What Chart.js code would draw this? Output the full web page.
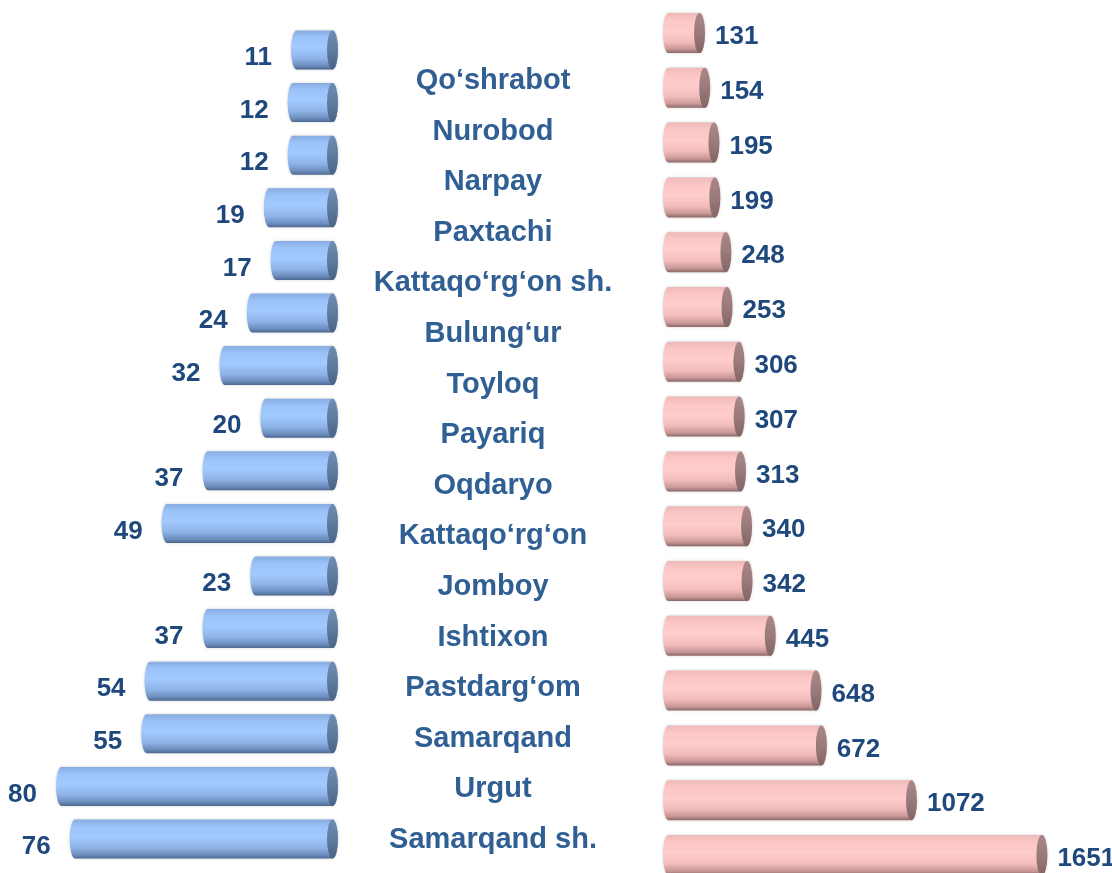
<!DOCTYPE html>
<html>
<head>
<meta charset="utf-8">
<script src="https://cdn.jsdelivr.net/npm/chart.js@4"></script>
<style>
    body { margin: 0; background: #ffffff; }
    #wrap { position: relative; width: 1112px; height: 873px; overflow: hidden; }
    canvas { position: absolute; top: 0; }
    #left-canvas { left: 0; }
    #mid-canvas { left: 343px; }
    #right-canvas { left: 600px; }
</style>
</head>
<body>
<div id="wrap">
    <canvas id="left-canvas" width="345" height="873"></canvas>
    <canvas id="mid-canvas" width="300" height="873"></canvas>
    <canvas id="right-canvas" width="526" height="890"></canvas>
</div>
<script>
const districts = ['Qo‘shrabot', 'Nurobod', 'Narpay', 'Paxtachi', 'Kattaqo‘rg‘on sh.', 'Bulung‘ur', 'Toyloq', 'Payariq',
    'Oqdaryo', 'Kattaqo‘rg‘on', 'Jomboy', 'Ishtixon', 'Pastdarg‘om', 'Samarqand', 'Urgut', 'Samarqand sh.'];
const leftValues = [11, 12, 12, 19, 17, 24, 32, 20, 37, 49, 23, 37, 54, 55, 80, 76];
const rightValues = [131, 154, 195, 199, 248, 253, 306, 307, 313, 340, 342, 445, 648, 672, 1072, 1651];

const numberColor = '#1F497D';
const labelColor = '#305F94';
const fontFamily = '"Liberation Sans", Arial, sans-serif';

// body and end-face colours of the cylinders (top -> bottom)
const blueBody = [[0, '#86ACE0'], [0.18, '#9CC3F8'], [0.45, '#A2CAFF'], [0.72, '#8EB3E6'], [0.9, '#6D8EBE'], [1, '#4B6890']];
const blueCap = [[0, '#6F8DB3'], [0.5, '#5F7B9F'], [1, '#4A6386']];
const pinkBody = [[0, '#EDB9B9'], [0.18, '#FBC6C6'], [0.45, '#FFCDCD'], [0.72, '#F2BCBC'], [0.9, '#C99898'], [1, '#8C6767']];
const pinkCap = [[0, '#A88888'], [0.5, '#9A7A7A'], [1, '#836565']];

function makeGradient(ctx, top, bottom, stops) {
    const g = ctx.createLinearGradient(0, top, 0, bottom);
    stops.forEach((s) => g.addColorStop(s[0], s[1]));
    return g;
}

// a lying cylinder: rounded far end on the left, elliptical face on the right
function drawCylinder(ctx, xL, xR, yc, h, rx, bodyStops, capStops) {
    const top = yc - h / 2;
    const bottom = yc + h / 2;
    if (xR - xL < 2 * rx) xR = xL + 2 * rx;

    ctx.save();
    ctx.shadowColor = 'rgba(0,0,0,0.18)';
    ctx.shadowBlur = 3;
    ctx.beginPath();
    ctx.moveTo(xR - rx, top);
    ctx.lineTo(xL + rx, top);
    ctx.ellipse(xL + rx, yc, rx, h / 2, 0, -Math.PI / 2, Math.PI / 2, true);
    ctx.lineTo(xR - rx, bottom);
    ctx.ellipse(xR - rx, yc, rx, h / 2, 0, Math.PI / 2, -Math.PI / 2, true);
    ctx.closePath();
    ctx.fillStyle = makeGradient(ctx, top, bottom, bodyStops);
    ctx.fill();
    ctx.restore();

    ctx.beginPath();
    ctx.ellipse(xR - rx, yc, rx, h / 2, 0, 0, Math.PI * 2);
    ctx.fillStyle = makeGradient(ctx, top, bottom, capStops);
    ctx.fill();
}

// draws each bar element of the chart as a cylinder plus its value
function cylinderPlugin(side) {
    return {
        id: 'cylinders',
        afterDatasetsDraw(chart) {
            const ctx = chart.ctx;
            const meta = chart.getDatasetMeta(0);
            const values = chart.data.datasets[0].data;
            ctx.save();
            ctx.font = 'bold 26px ' + fontFamily;
            ctx.fillStyle = numberColor;
            ctx.textBaseline = 'middle';
            meta.data.forEach((bar, i) => {
                const p = bar.getProps(['x', 'y', 'base', 'height'], true);
                if (side == 'left') {
                    // value end on the left, base face a little past zero
                    drawCylinder(ctx, p.x, p.base + 9.5, p.y, p.height, 5.5, blueBody, blueCap);
                    ctx.fillStyle = numberColor;
                    ctx.textAlign = 'right';
                    ctx.fillText(values[i], p.x - 19, p.y + 8);
                } else {
                    drawCylinder(ctx, p.base - 12.5, p.x, p.y, p.height, 5.5, pinkBody, pinkCap);
                    ctx.fillStyle = numberColor;
                    ctx.textAlign = 'left';
                    ctx.fillText(values[i], p.x + 10, p.y + 4);
                }
            });
            ctx.restore();
        }
    };
}

// district names, centred in the middle column
const namesPlugin = {
    id: 'names',
    afterDraw(chart) {
        const ctx = chart.ctx;
        const yScale = chart.scales.y;
        const cx = (chart.chartArea.left + chart.chartArea.right) / 2;
        ctx.save();
        ctx.font = 'bold 29px ' + fontFamily;
        ctx.fillStyle = labelColor;
        ctx.textAlign = 'center';
        ctx.textBaseline = 'middle';
        districts.forEach((name, i) => {
            ctx.fillText(name, cx, yScale.getPixelForValue(i) + 2);
        });
        ctx.restore();
    }
};

function barOptions(padding, xMin, xMax, reverse) {
    return {
        indexAxis: 'y',
        responsive: false,
        animation: false,
        layout: { padding: padding },
        plugins: { legend: { display: false }, tooltip: { enabled: false } },
        scales: {
            x: { display: false, min: xMin, max: xMax, reverse: reverse },
            y: { display: false }
        }
    };
}

const leftChart = new Chart(document.getElementById('left-canvas'), {
    type: 'bar',
    data: {
        labels: districts,
        datasets: [{ data: leftValues, backgroundColor: 'rgba(0,0,0,0)', barThickness: 39 }]
    },
    options: barOptions({ left: 1.5, right: 16.5, top: 23.7, bottom: 7.7 }, 0, 96, true),
    plugins: [cylinderPlugin('left')]
});

const rightChart = new Chart(document.getElementById('right-canvas'), {
    type: 'bar',
    data: {
        labels: districts,
        datasets: [{ data: rightValues, backgroundColor: 'rgba(0,0,0,0)', barThickness: 40 }]
    },
    options: barOptions({ left: 75.5, right: 0, top: 5.6, bottom: 7.6 }, 0, 2000, false),
    plugins: [cylinderPlugin('right')]
});

const midChart = new Chart(document.getElementById('mid-canvas'), {
    type: 'bar',
    data: { labels: districts, datasets: [] },
    options: {
        indexAxis: 'y',
        responsive: false,
        animation: false,
        layout: { padding: { top: 53.7, bottom: 9.7 } },
        plugins: { legend: { display: false }, tooltip: { enabled: false } },
        scales: {
            x: { display: false, min: 0, max: 1 },
            y: { type: 'category', labels: districts, display: false }
        }
    },
    plugins: [namesPlugin]
});
</script>
</body>
</html>
